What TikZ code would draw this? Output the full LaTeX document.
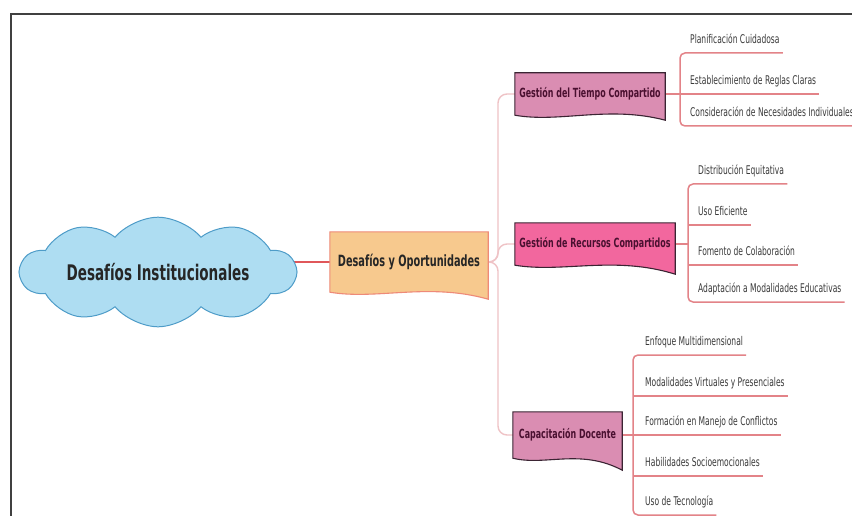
\documentclass[tikz,border=0pt]{standalone}
\usepackage{fontspec}
\setmainfont{DejaVu Sans Condensed}[FakeStretch=0.7]
\usetikzlibrary{positioning,shapes.symbols,backgrounds,calc}
\definecolor{cloudfill}{HTML}{AEDDF2}
\definecolor{clouddraw}{HTML}{4E9CC8}
\definecolor{orangefill}{HTML}{F7C98E}
\definecolor{orangedraw}{HTML}{EE8A78}
\definecolor{mauvefill}{HTML}{DA8DB2}
\definecolor{pinkfill}{HTML}{F2679E}
\definecolor{boxdraw}{HTML}{3B2433}
\definecolor{boxtext}{HTML}{4A1030}
\definecolor{linkred}{HTML}{E0575A}
\definecolor{trunkpink}{HTML}{EFC3C6}
\definecolor{leafred}{HTML}{E38388}
\definecolor{leafgray}{HTML}{3A3A3A}
\tikzset{
  centre/.style={
    cloud, cloud puffs=10, cloud puff arc=100, aspect=3.4, inner sep=0pt,
    fill=cloudfill, draw=clouddraw, line width=1pt,
    minimum width=275pt, minimum height=90pt,
    font=\bfseries\fontsize{21.5}{24}\selectfont, text=black!85
  },
  topic/.style={
    rectangle, inner sep=0pt, align=center,
    font=\bfseries\fontsize{12.6}{14}\selectfont, text=boxtext
  },
  leaf/.style={
    anchor=south west, inner xsep=3pt, inner ysep=2pt,
    text height=8pt, text depth=7pt,
    font=\fontsize{12}{13}\selectfont, text=leafgray
  },
  mainlink/.style={draw=linkred, line width=1.6pt},
  trunk/.style={draw=trunkpink, line width=1.4pt, rounded corners=9pt},
  leafline/.style={draw=leafred, line width=1.5pt, rounded corners=5pt},
  frame/.style={draw=black!75, line width=1.4pt}
}
% wavy bottom box: name, fill, border, drop of the right corner
\newcommand{\wavebox}[4]{%
  \filldraw[fill=#2, draw=#3, line width=1.1pt]
    (#1.north west) -- (#1.north east) -- ([yshift=-#4]#1.south east)
    .. controls ($(#1.south west)!0.62!(#1.south east)+(0,10pt)$)
    and ($(#1.south west)!0.30!(#1.south east)+(0,-8pt)$) .. (#1.south west)
    -- cycle;
}

\begin{document}
\begin{tikzpicture}[x=1pt, y=-1pt]
\useasboundingbox (0,0) rectangle (852,516);
\clip (0,0) rectangle (852,516);
\draw[frame] (11,520) -- (11,14) -- (856,14);

% centre and first level
\node[centre] (inst) at (158,272) {Desafíos Institucionales};
\node[topic, minimum width=158pt, minimum height=60pt,
  font=\bfseries\fontsize{15.5}{17}\selectfont, text=black!85] (desaf) at (409,262) {Desafíos y Oportunidades};

% second level
\node[topic, minimum width=150pt, minimum height=42pt] (tiempo) at (590,94) {Gestión del Tiempo Compartido};
\node[topic, minimum width=160pt, minimum height=42pt] (recursos) at (595,244) {Gestión de Recursos Compartidos};
\node[topic, minimum width=109pt, minimum height=46pt] (capac) at (567.5,435) {Capacitación Docente};

\coordinate (fork) at (498,262);
\coordinate (tb) at (680,94);
\coordinate (rb) at (688,244);
\coordinate (cb) at (633,435);

% leaves
\node[leaf] (t1) at (687,53) {Planificación Cuidadosa};
\node[leaf] (t2) at (687,94) {Establecimiento de Reglas Claras};
\node[leaf] (t3) at (687,126) {Consideración de Necesidades Individuales};

\node[leaf] (r1) at (695,184) {Distribución Equitativa};
\node[leaf] (r2) at (695,225) {Uso Eficiente};
\node[leaf] (r3) at (695,265) {Fomento de Colaboración};
\node[leaf] (r4) at (695,302) {Adaptación a Modalidades Educativas};

\node[leaf] (c1) at (642,355) {Enfoque Multidimensional};
\node[leaf] (c2) at (642,396) {Modalidades Virtuales y Presenciales};
\node[leaf] (c3) at (642,435) {Formación en Manejo de Conflictos};
\node[leaf] (c4) at (642,476) {Habilidades Socioemocionales};
\node[leaf] (c5) at (642,515) {Uso de Tecnología};

\begin{pgfonlayer}{background}
\fill[white] (0,0) rectangle (852,516);
\draw[mainlink] (inst.center |- desaf.west) -- (desaf.west);
\draw[trunk] (desaf.east) -- (fork) |- (tiempo.west);
\draw[trunk] (desaf.east) -- (fork) |- (recursos.west);
\draw[trunk] (desaf.east) -- (fork) |- (capac.west);

\draw[leafline] (tiempo.east) -- (t2.south east);
\draw[leafline] (t1.south east) -- (t1.south -| tb) -- (t3.south -| tb) -- (t3.south east);

\draw[leafline] (recursos.east) -- (rb);
\draw[leafline] (r1.south east) -- (r1.south -| rb) -- (r4.south -| rb) -- (r4.south east);
\draw[leafline] (r2.south -| rb) -- (r2.south east);
\draw[leafline] (r3.south -| rb) -- (r3.south east);

\draw[leafline] (capac.east) -- (c3.south east);
\draw[leafline] (c1.south east) -- (c1.south -| cb) -- (c5.south -| cb) -- (c5.south east);
\draw[leafline] (c2.south -| cb) -- (c2.south east);
\draw[leafline] (c4.south -| cb) -- (c4.south east);

\wavebox{desaf}{orangefill}{orangedraw}{7pt}
\wavebox{tiempo}{mauvefill}{boxdraw}{5pt}
\wavebox{recursos}{pinkfill}{boxdraw}{9pt}
\wavebox{capac}{mauvefill}{boxdraw}{12pt}
\end{pgfonlayer}
\end{tikzpicture}
\end{document}
